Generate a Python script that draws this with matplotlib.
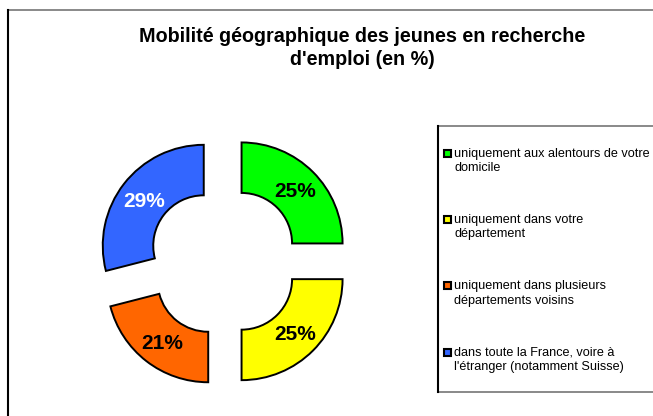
import matplotlib
matplotlib.use("Agg")
import matplotlib.pyplot as plt
from matplotlib.patches import Rectangle
from matplotlib.lines import Line2D

# ---- data ----
title = "Mobilité géographique des jeunes en recherche\nd'emploi (en %)"
categories = [
    "uniquement aux alentours de votre\ndomicile",
    "uniquement dans votre\ndépartement",
    "uniquement dans plusieurs\ndépartements voisins",
    "dans toute la France, voire à\nl'étranger (notamment Suisse)",
]
values = [25, 25, 21, 29]
colors = ["#00FF00", "#FFFF00", "#FF6600", "#3366FF"]
label_colors = ["black", "black", "black", "white"]

plt.rcParams['font.family'] = ['Liberation Sans', 'DejaVu Sans']

W, H = 653, 416
fig = plt.figure(figsize=(W / 100, H / 100), dpi=100)

def fx(px):
    return px / W

def fy(py):
    return 1 - py / H

# frame lines
fig.add_artist(Line2D([fx(8), 1], [fy(10), fy(10)], color="#808080", lw=1.3, transform=fig.transFigure))
fig.add_artist(Line2D([fx(8), fx(8)], [fy(10), 0], color="black", lw=1.5, transform=fig.transFigure))

# title
fig.text(fx(362), fy(48), title, ha="center", va="center", fontsize=14.2,
         fontweight="bold", linespacing=1.22, multialignment="center")

# pie axes
cx, cy, R = 223.7, 261.3, 101.0
lim = 1.3
ax = fig.add_axes([fx(cx - lim * R), fy(cy + lim * R), 2 * lim * R / W, 2 * lim * R / H])
ax.set_xlim(-lim, lim)
ax.set_ylim(-lim, lim)
ax.set_aspect("equal")
ax.axis("off")

wedges, texts, autotexts = ax.pie(
    values, colors=colors, startangle=90, counterclock=False,
    explode=[0.25] * len(values), radius=1.0,
    wedgeprops=dict(width=0.5, edgecolor="black", linewidth=1.4),
    autopct="%.0f%%", pctdistance=0.75,
    textprops=dict(fontsize=15, fontweight="bold"),
)
for t, c in zip(autotexts, label_colors):
    t.set_color(c)
    t.set_verticalalignment("center_baseline")
ax.set_xlim(-lim, lim)
ax.set_ylim(-lim, lim)

# legend box
fig.add_artist(Rectangle((fx(437.5), fy(392)), fx(700) - fx(437.5), fy(125.5) - fy(392),
                         transform=fig.transFigure, facecolor="white", edgecolor="#808080", lw=1.3))
fig.add_artist(Line2D([fx(437.5), fx(437.5)], [fy(125.5), fy(392)], color="black", lw=1.5,
                      transform=fig.transFigure))

y0, dy = 153.5, 66.2
for i, (lab, col) in enumerate(zip(categories, colors)):
    y = y0 + i * dy
    fig.add_artist(Rectangle((fx(444), fy(y + 3.5)), 7 / W, 7 / H, transform=fig.transFigure,
                             facecolor=col, edgecolor="black", lw=1.5))
    fig.text(fx(454.5), fy(y - 5.5), lab, ha="left", va="top", fontsize=9.1, linespacing=1.25)

fig.savefig("out.png", dpi=100)
